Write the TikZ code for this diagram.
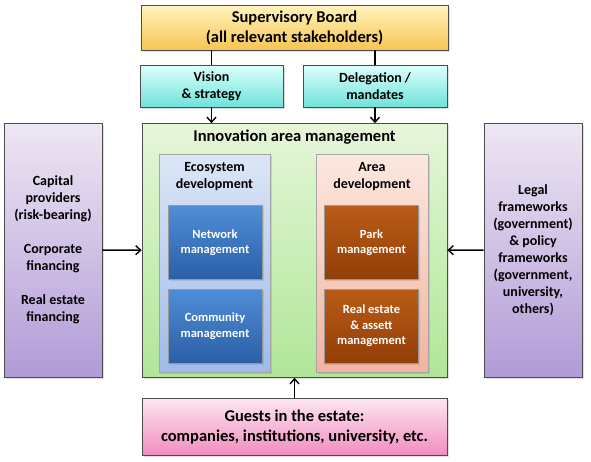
\documentclass[tikz,border=0pt]{standalone}
\usepackage{fontspec}
\setmainfont{Carlito}
\usetikzlibrary{arrows.meta, positioning, shadows}

\definecolor{boardtop}{HTML}{FFF3BE}
\definecolor{boardbot}{HTML}{F8C552}
\definecolor{cyantop}{HTML}{DDFFFC}
\definecolor{cyanbot}{HTML}{6FE3DA}
\definecolor{purptop}{HTML}{EEE7F4}
\definecolor{purpbot}{HTML}{B19BD6}
\definecolor{greentop}{HTML}{E6F6D9}
\definecolor{greenbot}{HTML}{B0E698}
\definecolor{ltbluetop}{HTML}{DCE6F6}
\definecolor{ltbluebot}{HTML}{9FBBEA}
\definecolor{peachtop}{HTML}{FCE8E0}
\definecolor{peachbot}{HTML}{F2B49E}
\definecolor{bluetop}{HTML}{4F8ED6}
\definecolor{bluebot}{HTML}{2A5FA6}
\definecolor{browntop}{HTML}{BA5C18}
\definecolor{brownbot}{HTML}{923E07}
\definecolor{pinktop}{HTML}{FCE6EF}
\definecolor{pinkbot}{HTML}{F18DBF}

\begin{document}
\begin{tikzpicture}[
    x=1pt, y=-1pt,
    font=\fontsize{14}{17}\selectfont\bfseries,
    >={Straight Barb[length=5pt, width=9pt]},
    big/.style={font=\fontsize{16.5}{20}\selectfont\bfseries},
    box/.style={draw=black!70, line width=0.6pt, align=center,
                drop shadow={opacity=0.25, shadow xshift=1.5pt,
                             shadow yshift=-1.5pt}},
    inner/.style={box, draw=black!40, text=white,
                  font=\fontsize{12.5}{15.5}\selectfont\bfseries,
                  minimum width=94pt, minimum height=74pt},
    link/.style={line width=1.4pt, black}
  ]
  \useasboundingbox (0,0) rectangle (591,461);

  % Top
  \node[box, big, top color=boardtop, bottom color=boardbot,
        minimum width=307pt, minimum height=45pt] (board) at (294.5,27.5)
        {Supervisory Board\\(all relevant stakeholders)};
  \node[box, top color=cyantop, bottom color=cyanbot, minimum width=143pt,
        minimum height=42pt] (vision) at (211.5,86) {Vision\\\& strategy};
  \node[box, top color=cyantop, bottom color=cyanbot, minimum width=144pt,
        minimum height=42pt] (deleg) at (375,86) {Delegation /\\mandates};

  % Innovation area management
  \node[box, top color=greentop, bottom color=greenbot, minimum width=305pt,
        minimum height=254pt] (innov) at (294.5,250.5) {};
  \node[big, below=3.5pt of innov.north] (innovtitle)
        {Innovation area management};

  % Ecosystem development
  \node[box, draw=black!35, top color=ltbluetop, bottom color=ltbluebot,
        minimum width=111pt, minimum height=218pt] (eco) at (214.5,263) {};
  \node[align=center, below=5pt of eco.north] (ecotitle)
        {Ecosystem\\development};
  \node[inner, top color=bluetop, bottom color=bluebot] (network)
        at (215,242.5) {Network\\management};
  \node[inner, top color=bluetop, bottom color=bluebot] (community)
        at (215,326) {Community\\management};

  % Area development
  \node[box, draw=black!35, top color=peachtop, bottom color=peachbot,
        minimum width=112pt, minimum height=218pt] (areadev) at (372,263) {};
  \node[align=center, below=5pt of areadev.north] (areatitle)
        {Area\\development};
  \node[inner, top color=browntop, bottom color=brownbot] (park)
        at (371.5,242.5) {Park\\management};
  \node[inner, top color=browntop, bottom color=brownbot] (realestate)
        at (371.5,326) {Real estate\\\& assett\\management};

  % Sides
  \node[box, top color=purptop, bottom color=purpbot, minimum width=98pt,
        minimum height=254pt] (capital) at (53,250)
        {Capital\\providers\\(risk-bearing)\\[17pt]Corporate\\financing\\[17pt]Real estate\\financing};
  \node[box, top color=purptop, bottom color=purpbot, minimum width=98pt,
        minimum height=254pt] (legal) at (533,250)
        {Legal\\frameworks\\(government)\\\& policy\\frameworks\\(government,\\university,\\others)};

  % Bottom
  \node[box, big, top color=pinktop, bottom color=pinkbot,
        minimum width=305pt, minimum height=57pt] (guests) at (294.5,427)
        {Guests in the estate:\\companies, institutions, university, etc.};

  % Links
  \draw[link] (board.south -| vision) -- (vision.north);
  \draw[link] (board.south -| deleg) -- (deleg.north);
  \draw[link, ->] (vision) -- (vision |- innov.north);
  \draw[link, ->] (deleg) -- (deleg |- innov.north);
  \draw[link, ->] (capital) -- (innov);
  \draw[link, ->] (legal) -- (innov);
  \draw[link, ->] (guests) -- (innov);
\end{tikzpicture}
\end{document}
